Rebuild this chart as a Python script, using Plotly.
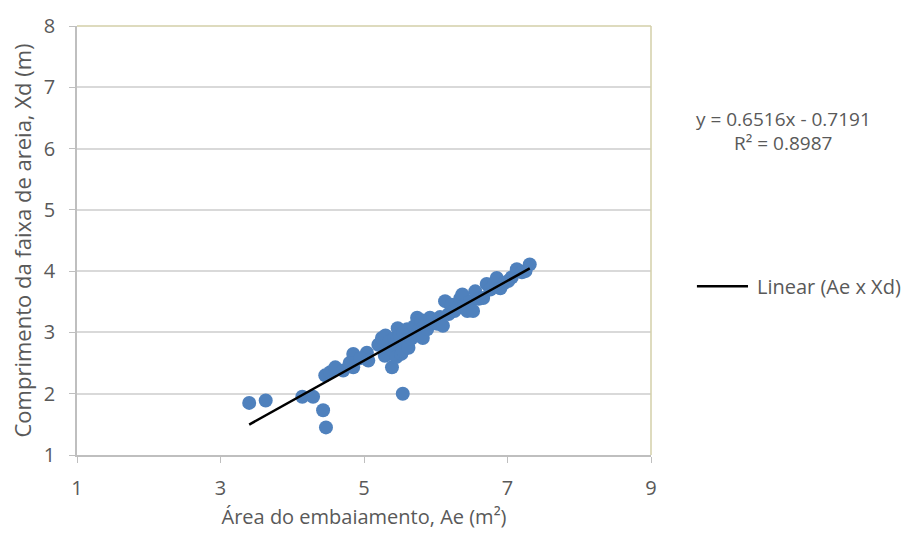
import plotly.graph_objects as go

# Area do embaiamento (Ae, m²) and Comprimento da faixa de areia (Xd, m)
ae = [3.40, 3.63, 4.14, 4.29, 4.43, 4.47, 5.54,
      4.46, 4.53, 4.60, 4.71, 4.85, 4.85, 4.80, 5.04, 5.06, 4.95,
      5.20, 5.22, 5.25, 5.29, 5.30, 5.33, 5.35, 5.39, 5.40, 5.42,
      5.45, 5.46, 5.47, 5.50, 5.52, 5.54, 5.55, 5.58, 5.60, 5.62,
      5.64, 5.66, 5.70, 5.74, 5.76, 5.78, 5.80, 5.82, 5.85, 5.88,
      5.92, 5.96, 6.02, 6.06, 6.10, 6.13, 6.18, 6.22, 6.26, 6.30,
      6.34, 6.37, 6.40, 6.44, 6.48, 6.52, 6.55, 6.60, 6.66, 6.71,
      6.76, 6.80, 6.85, 6.90, 6.95, 7.01, 7.06, 7.13, 7.20, 7.25, 7.31]
xd = [1.85, 1.89, 1.95, 1.95, 1.73, 1.45, 2.00,
      2.30, 2.35, 2.43, 2.38, 2.43, 2.65, 2.50, 2.67, 2.54, 2.58,
      2.80, 2.81, 2.91, 2.62, 2.95, 2.75, 2.85, 2.43, 2.70, 2.90,
      2.60, 2.86, 3.07, 2.95, 2.65, 2.70, 3.00, 2.80, 3.05, 2.75,
      2.98, 2.90, 3.10, 3.24, 2.95, 3.06, 3.20, 2.91, 3.15, 3.05,
      3.24, 3.20, 3.14, 3.25, 3.11, 3.51, 3.30, 3.45, 3.35, 3.40,
      3.55, 3.62, 3.45, 3.35, 3.50, 3.35, 3.67, 3.55, 3.56, 3.79,
      3.70, 3.75, 3.89, 3.72, 3.80, 3.84, 3.90, 4.03, 3.98, 4.00, 4.11]

slope = 0.6516
intercept = -0.7191
trend_x = [min(ae), max(ae)]
trend_y = [slope * v + intercept for v in trend_x]

x_ticks = [1, 3, 5, 7, 9]
y_ticks = [1, 2, 3, 4, 5, 6, 7, 8]

font_family = "Open Sans, Noto Sans, sans-serif"
txt_color = "#595959"

fig = go.Figure()
fig.add_trace(go.Scatter(
    x=ae, y=xd, mode="markers", name="Ae x Xd", showlegend=False,
    marker=dict(color="#4f81bd", size=14, line=dict(width=0)),
))
fig.add_trace(go.Scatter(
    x=trend_x, y=trend_y, mode="lines", name="Linear (Ae x Xd)", showlegend=False,
    line=dict(color="#000000", width=2.5),
))

# top and right border of plot area
fig.add_shape(type="line", xref="paper", yref="paper", x0=0, x1=1, y0=1, y1=1,
              line=dict(color="#d3cfa8", width=1.5))
fig.add_shape(type="line", xref="paper", yref="paper", x0=1, x1=1, y0=0, y1=1,
              line=dict(color="#d3cfa8", width=1.5))

# trendline equation
fig.add_annotation(xref="paper", yref="paper", x=1.230, y=0.784,
                   xanchor="center", yanchor="middle",
                   text="y = 0.6516x - 0.7191", showarrow=False,
                   font=dict(family=font_family, size=19, color=txt_color))
fig.add_annotation(xref="paper", yref="paper", x=1.230, y=0.727,
                   xanchor="center", yanchor="middle",
                   text="R² = 0.8987", showarrow=False,
                   font=dict(family=font_family, size=19, color=txt_color))

# legend entry for the trendline
fig.add_shape(type="line", xref="paper", yref="paper", x0=1.080, x1=1.169,
              y0=0.3935, y1=0.3935, line=dict(color="#000000", width=2.5))
fig.add_annotation(xref="paper", yref="paper", x=1.181, y=0.3935,
                   xanchor="left", yanchor="middle",
                   text="Linear (Ae x Xd)", showarrow=False,
                   font=dict(family=font_family, size=20, color=txt_color))

fig.update_layout(
    width=909, height=537,
    margin=dict(l=77, r=258, t=23, b=82),
    paper_bgcolor="white", plot_bgcolor="white",
    font=dict(family=font_family, color=txt_color, size=20),
    showlegend=False,
    xaxis=dict(range=[1, 9], tickvals=x_ticks, showgrid=False,
               showline=True, linecolor="#bfbfbf", linewidth=1.5,
               ticks="outside", ticklen=6, tickcolor="#bfbfbf",
               ticklabelstandoff=8,
               title=dict(text="Área do embaiamento, Ae (m²)", font=dict(size=20), standoff=10),
               zeroline=False, tickfont=dict(size=20)),
    yaxis=dict(range=[1, 8], tickvals=y_ticks, showgrid=True, gridcolor="#d9d9d9",
               gridwidth=1.5, showline=True, linecolor="#bfbfbf", linewidth=1.5,
               ticks="outside", ticklen=6, tickcolor="#bfbfbf",
               ticklabelstandoff=10,
               title=dict(text="Comprimento da faixa de areia, Xd (m)", font=dict(size=22), standoff=6),
               zeroline=False, tickfont=dict(size=20)),
)

fig.write_html("out.html")
